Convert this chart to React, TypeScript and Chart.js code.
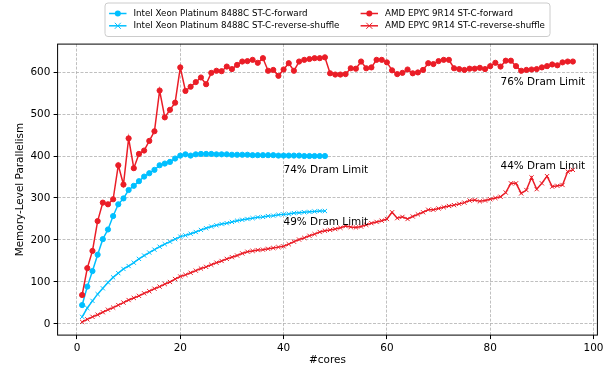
import React, { useEffect, useRef } from "react";
import { Chart, registerables } from "chart.js";

Chart.register(...registerables);

const FONT = '"DejaVu Sans", sans-serif';
const INTEL = "#00BFFF";
const AMD = "#EA1D27";

const intelCores = [
  1, 2, 3, 4, 5, 6, 7, 8, 9, 10, 11, 12, 13, 14, 15, 16, 17, 18, 19, 20, 21, 22, 23, 24,
  25, 26, 27, 28, 29, 30, 31, 32, 33, 34, 35, 36, 37, 38, 39, 40, 41, 42, 43, 44, 45, 46, 47, 48,
];
const amdCores = [
  1, 2, 3, 4, 5, 6, 7, 8, 9, 10, 11, 12, 13, 14, 15, 16, 17, 18, 19, 20, 21, 22, 23, 24,
  25, 26, 27, 28, 29, 30, 31, 32, 33, 34, 35, 36, 37, 38, 39, 40, 41, 42, 43, 44, 45, 46, 47, 48,
  49, 50, 51, 52, 53, 54, 55, 56, 57, 58, 59, 60, 61, 62, 63, 64, 65, 66, 67, 68, 69, 70, 71, 72,
  73, 74, 75, 76, 77, 78, 79, 80, 81, 82, 83, 84, 85, 86, 87, 88, 89, 90, 91, 92, 93, 94, 95, 96,
];

const intelForward = [
  45, 89, 126, 165, 202, 225, 257, 285, 299, 319, 329, 340, 351, 359, 367, 378, 382, 386, 394, 401,
  404, 401, 404, 405, 405, 405, 404, 404, 404, 403, 403, 403, 403, 402, 402, 402, 402, 402, 401, 401,
  401, 401, 401, 400, 400, 400, 400, 400,
];
const intelReverseShuffle = [
  17, 38, 55, 71, 85, 99, 111, 121, 131, 138, 146, 155, 163, 170, 177, 184, 190, 196, 202, 208,
  211, 215, 219, 224, 228, 232, 235, 238, 240, 243, 246, 248, 250, 252, 254, 255, 257, 258, 260, 261,
  262, 264, 265, 266, 267, 268, 269, 269,
];
const amdForward = [
  69, 133, 174, 245, 289, 285, 297, 378, 332, 442, 371, 405, 413, 436, 459, 556, 492, 510, 527, 611,
  555, 565, 576, 587, 571, 598, 603, 602, 613, 607, 617, 625, 626, 629, 622, 633, 603, 605, 591, 606,
  621, 603, 625, 629, 631, 633, 633, 635, 597, 594, 594, 595, 609, 608, 625, 609, 611, 629, 629, 623,
  604, 595, 598, 606, 597, 599, 605, 621, 619, 626, 629, 629, 609, 607, 605, 608, 608, 610, 607, 614,
  622, 613, 627, 627, 614, 603, 605, 606, 607, 611, 614, 618, 616, 623, 625, 625,
];
const amdReverseShuffle = [
  5, 11, 17, 22, 28, 34, 39, 45, 51, 57, 62, 67, 73, 78, 84, 89, 95, 100, 107, 113,
  117, 122, 127, 132, 136, 141, 146, 150, 155, 159, 163, 168, 172, 174, 176, 177, 179, 181, 183, 185,
  190, 196, 201, 205, 210, 214, 219, 222, 224, 226, 229, 233, 231, 230, 232, 236, 240, 243, 246, 250,
  266, 252, 255, 250, 256, 261, 266, 272, 272, 275, 278, 281, 283, 286, 289, 294, 295, 292, 294, 297,
  300, 303, 313, 335, 335, 311, 319, 349, 321, 335, 352, 327, 329, 331, 363, 367,
];

const seriesLabels = [
  "Intel Xeon Platinum 8488C ST-C-forward",
  "Intel Xeon Platinum 8488C ST-C-reverse-shuffle",
  "AMD EPYC 9R14 ST-C-forward",
  "AMD EPYC 9R14 ST-C-reverse-shuffle",
];

const xTicks = [0, 20, 40, 60, 80, 100];
const yTicks = [0, 100, 200, 300, 400, 500, 600];

const noteTexts = ["74% Dram Limit", "49% Dram Limit", "76% Dram Limit", "44% Dram Limit"];
const noteX = [40, 40, 82, 82];
const noteY = [360, 236, 569, 369];

const xTitle = "#cores";
const yTitle = "Memory-Level Parallelism";

function pts(xs: number[], ys: number[]) {
  return xs.map((x, i) => ({ x, y: ys[i] }));
}

function drawMarker(ctx: CanvasRenderingContext2D, style: string, cx: number, cy: number, color: string) {
  ctx.save();
  if (style === "circle") {
    ctx.fillStyle = color;
    ctx.beginPath();
    ctx.arc(cx, cy, 3, 0, Math.PI * 2);
    ctx.fill();
  } else {
    ctx.strokeStyle = color;
    ctx.lineWidth = 1;
    const r = 3;
    ctx.beginPath();
    ctx.moveTo(cx - r, cy - r);
    ctx.lineTo(cx + r, cy + r);
    ctx.moveTo(cx - r, cy + r);
    ctx.lineTo(cx + r, cy - r);
    ctx.stroke();
  }
  ctx.restore();
}

const extrasPlugin = {
  id: "extras",
  afterDatasetsDraw(chart: any) {
    const { ctx, chartArea: a, scales } = chart;
    const xs = scales.x;
    const ys = scales.y;
    ctx.save();
    // frame
    ctx.strokeStyle = "#000";
    ctx.lineWidth = 1;
    ctx.strokeRect(a.left, a.top, a.right - a.left, a.bottom - a.top);

    // annotations
    ctx.fillStyle = "#000";
    ctx.font = `10.45px ${FONT}`;
    ctx.textAlign = "left";
    ctx.textBaseline = "alphabetic";
    noteTexts.forEach((t, i) => {
      ctx.fillText(t, xs.getPixelForValue(noteX[i]), ys.getPixelForValue(noteY[i]));
    });

    // axis titles
    ctx.textAlign = "center";
    ctx.textBaseline = "middle";
    ctx.fillText(xTitle, (a.left + a.right) / 2, 360);
    ctx.save();
    ctx.translate(20, (a.top + a.bottom) / 2);
    ctx.rotate(-Math.PI / 2);
    ctx.fillText(yTitle, 0, 0);
    ctx.restore();

    // legend
    const bx = 105, by = 3, bw = 445, bh = 33.5, rr = 3;
    ctx.beginPath();
    ctx.moveTo(bx + rr, by);
    ctx.lineTo(bx + bw - rr, by);
    ctx.quadraticCurveTo(bx + bw, by, bx + bw, by + rr);
    ctx.lineTo(bx + bw, by + bh - rr);
    ctx.quadraticCurveTo(bx + bw, by + bh, bx + bw - rr, by + bh);
    ctx.lineTo(bx + rr, by + bh);
    ctx.quadraticCurveTo(bx, by + bh, bx, by + bh - rr);
    ctx.lineTo(bx, by + rr);
    ctx.quadraticCurveTo(bx, by, bx + rr, by);
    ctx.closePath();
    ctx.fillStyle = "rgba(255,255,255,0.8)";
    ctx.fill();
    ctx.strokeStyle = "#cccccc";
    ctx.lineWidth = 1;
    ctx.stroke();

    const colText = [133.5, 385];
    const rowY = [13.5, 25.8];
    chart.data.datasets.forEach((ds: any, i: number) => {
      const col = i < 2 ? 0 : 1;
      const row = i % 2;
      const tx = colText[col];
      const y = rowY[row];
      const h1 = tx - 7;
      const h0 = h1 - 17.4;
      ctx.strokeStyle = ds.borderColor;
      ctx.lineWidth = 1.5;
      ctx.beginPath();
      ctx.moveTo(h0, y);
      ctx.lineTo(h1, y);
      ctx.stroke();
      drawMarker(ctx, ds.pointStyle, (h0 + h1) / 2, y, ds.borderColor);
      ctx.fillStyle = "#000";
      ctx.font = `8.7px ${FONT}`;
      ctx.textAlign = "left";
      ctx.textBaseline = "middle";
      ctx.fillText(ds.label, tx, y);
    });
    ctx.restore();
  },
};

export default function App() {
  const ref = useRef<HTMLCanvasElement | null>(null);

  useEffect(() => {
    if (!ref.current) return;
    const tickFont = { family: FONT, size: 10.45 };
    const gridCommon = {
      color: "#b0b0b0",
      lineWidth: 0.8,
      tickLength: 4,
      tickColor: "#000",
      tickWidth: 1,
    };
    const chart = new Chart(ref.current, {
      type: "line",
      data: {
        datasets: [
          {
            label: seriesLabels[0],
            data: pts(intelCores, intelForward),
            borderColor: INTEL,
            backgroundColor: INTEL,
            pointStyle: "circle",
            pointRadius: 2.6,
            pointBorderWidth: 1,
            borderWidth: 1.5,
            order: 4,
          },
          {
            label: seriesLabels[1],
            data: pts(intelCores, intelReverseShuffle),
            borderColor: INTEL,
            backgroundColor: INTEL,
            pointStyle: "crossRot",
            pointRadius: 3,
            pointBorderWidth: 1,
            borderWidth: 1.5,
            order: 3,
          },
          {
            label: seriesLabels[2],
            data: pts(amdCores, amdForward),
            borderColor: AMD,
            backgroundColor: AMD,
            pointStyle: "circle",
            pointRadius: 2.6,
            pointBorderWidth: 1,
            borderWidth: 1.5,
            order: 2,
          },
          {
            label: seriesLabels[3],
            data: pts(amdCores, amdReverseShuffle),
            borderColor: AMD,
            backgroundColor: AMD,
            pointStyle: "crossRot",
            pointRadius: 3,
            pointBorderWidth: 1,
            borderWidth: 1.5,
            order: 1,
          },
        ],
      },
      options: {
        responsive: false,
        animation: false,
        events: [],
        layout: { padding: { top: 44.1, right: 13.6, left: 0, bottom: 0 } },
        plugins: { legend: { display: false }, tooltip: { enabled: false } },
        scales: {
          x: {
            type: "linear",
            min: -3.75,
            max: 100.75,
            afterBuildTicks: (s: any) => {
              s.ticks = xTicks.map((v) => ({ value: v }));
            },
            afterFit: (s: any) => {
              s.height = 33.9;
            },
            ticks: { font: tickFont, color: "#000", padding: 3.3, maxRotation: 0, autoSkip: false },
            grid: gridCommon,
            border: { display: false, dash: [3, 1.5] },
          },
          y: {
            type: "linear",
            min: -26.5,
            max: 666.5,
            afterBuildTicks: (s: any) => {
              s.ticks = yTicks.map((v) => ({ value: v }));
            },
            afterFit: (s: any) => {
              s.width = 57.6;
            },
            ticks: { font: tickFont, color: "#000", padding: 3.3, autoSkip: false },
            grid: gridCommon,
            border: { display: false, dash: [3, 1.5] },
          },
        },
      },
      plugins: [extrasPlugin],
    } as any);
    return () => chart.destroy();
  }, []);

  return (
    <div style={{ position: "fixed", left: 0, top: 0, width: 611, height: 369, background: "#fff" }}>
      <canvas ref={ref} width={611} height={369} style={{ display: "block", width: 611, height: 369 }} />
    </div>
  );
}
